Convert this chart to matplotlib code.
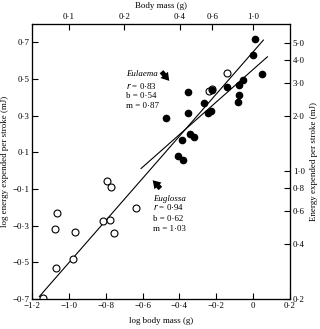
import matplotlib.pyplot as plt
import numpy as np
from matplotlib.patches import FancyArrowPatch

plt.rcParams['font.family'] = ['Liberation Serif', 'DejaVu Serif']

# Euglossa (open circles): log body mass, log energy per stroke
euglossa_x = [-1.139, -1.071, -0.979, -1.075, -1.065, -0.967, -0.814, -0.778,
              -0.755, -0.792, -0.773, -0.633, -0.143, -0.238, -0.224]
euglossa_y = [-0.693, -0.533, -0.480, -0.318, -0.228, -0.336, -0.277, -0.270,
              -0.338, -0.057, -0.087, -0.204, 0.534, 0.435, 0.446]

# Eulaema (filled circles)
eulaema_x = [0.013, -0.001, 0.049, -0.053, -0.078, -0.143, -0.078, -0.080,
             -0.355, -0.268, -0.247, -0.229, -0.355, -0.471, -0.342, -0.322,
             -0.385, -0.408, -0.381, -0.224]
eulaema_y = [0.716, 0.633, 0.529, 0.492, 0.468, 0.455, 0.413, 0.374,
             0.429, 0.369, 0.315, 0.325, 0.314, 0.290, 0.202, 0.185,
             0.170, 0.079, 0.059, 0.440]

# fitted lines as drawn: slope, intercept, x range
eug_fit = (1.15, 0.648, -1.16, 0.056)
eul_fit = (0.888, 0.552, -0.608, 0.078)

xticks = [-1.2, -1.0, -0.8, -0.6, -0.4, -0.2, 0, 0.2]
yticks = [-0.7, -0.5, -0.3, -0.1, 0.1, 0.3, 0.5, 0.7]
mass_ticks = [0.1, 0.2, 0.4, 0.6, 1.0]
energy_ticks = [0.2, 0.4, 0.6, 0.8, 1.0, 2.0, 3.0, 4.0, 5.0]


def fmt(v):
    s = '%.1f' % v
    s = s.replace('-', '\u2212').replace('.', '\u00b7')
    if s == '0\u00b70':
        s = '0'
    return s


fig = plt.figure(figsize=(3.2, 3.29), dpi=100)
ax = fig.add_axes([0.1, 0.091, 0.806, 0.836])
fs = 6.4

ax.plot(euglossa_x, euglossa_y, 'o', mfc='white', mec='black', mew=0.8, ms=5, zorder=3)
ax.plot(eulaema_x, eulaema_y, 'o', color='black', ms=4.5, zorder=4)

for m, b, x0, x1 in [eug_fit, eul_fit]:
    xs = np.array([x0, x1])
    ax.plot(xs, m * xs + b, color='black', lw=0.8)

ax.set_xlim(-1.2, 0.2)
ax.set_ylim(-0.7, 0.8)
ax.set_xticks(xticks)
ax.set_xticklabels([fmt(v) for v in xticks], fontsize=fs)
ax.set_yticks(yticks)
ax.set_yticklabels([fmt(v) for v in yticks], fontsize=fs)
ax.tick_params(direction='in', length=4, width=0.8, pad=2)
ax.set_xlabel('log body mass (g)', fontsize=fs, labelpad=5)
ax.set_ylabel('log energy expended per stroke (mJ)', fontsize=fs, labelpad=2)

# top axis: body mass
axt = ax.twiny()
axt.set_xlim(ax.get_xlim())
axt.set_xticks(np.log10(mass_ticks))
axt.set_xticklabels([fmt(v) for v in mass_ticks], fontsize=fs)
axt.tick_params(direction='in', length=4, width=0.8, pad=2)
axt.set_xlabel('Body mass (g)', fontsize=fs, labelpad=4)

# right axis: energy
axr = ax.twinx()
axr.set_ylim(ax.get_ylim())
axr.set_yticks(np.log10(energy_ticks))
axr.set_yticklabels([fmt(v) for v in energy_ticks], fontsize=fs)
axr.tick_params(direction='in', length=4, width=0.8, pad=2)
axr.set_ylabel('Energy expended per stroke (mJ)', fontsize=fs, labelpad=4)

for a in (ax, axt, axr):
    for sp in a.spines.values():
        sp.set_linewidth(0.8)

# annotations
ax.text(-0.688, 0.529, 'Eulaema', style='italic', fontsize=fs, va='center')
ax.text(-0.688, 0.463, '$r$ = 0\u00b783', fontsize=fs, va='center')
ax.text(-0.688, 0.407, 'b = 0\u00b754', fontsize=fs, va='center')
ax.text(-0.688, 0.352, 'm = 0\u00b787', fontsize=fs, va='center')

ax.text(-0.543, -0.155, 'Euglossa', style='italic', fontsize=fs, va='center')
ax.text(-0.543, -0.199, '$r$ = 0\u00b794', fontsize=fs, va='center')
ax.text(-0.543, -0.265, 'b = 0\u00b762', fontsize=fs, va='center')
ax.text(-0.543, -0.320, 'm = 1\u00b703', fontsize=fs, va='center')

arrow_style = 'simple,head_width=1.0,head_length=0.8,tail_width=0.5'
for tail, head in [((-0.497, 0.540), (-0.455, 0.490)),
                   ((-0.503, -0.097), (-0.545, -0.052))]:
    ax.add_patch(FancyArrowPatch(tail, head, arrowstyle=arrow_style,
                                 mutation_scale=7, color='black', lw=0,
                                 shrinkA=0, shrinkB=0, zorder=5))

fig.savefig('out.png', dpi=100)
